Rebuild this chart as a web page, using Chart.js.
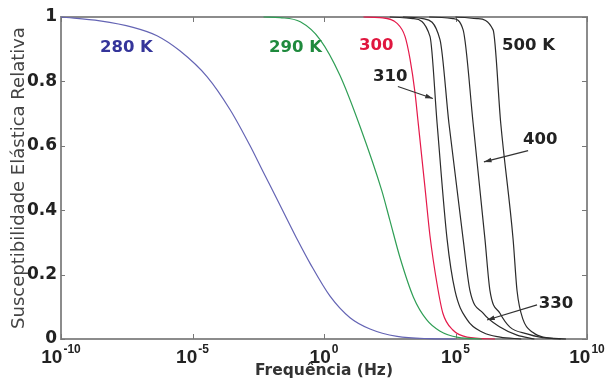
<!DOCTYPE html>
<html>
<head>
<meta charset="utf-8">
<script src="https://cdn.jsdelivr.net/npm/chart.js@4.4.1/dist/chart.umd.min.js"></script>
<style>
  html,body{margin:0;padding:0;background:#fff;}
  #c{display:block;}
</style>
</head>
<body>
<canvas id="c" width="606" height="380"></canvas>
<script>
// ---- Data (frequency as log10(Hz), relative elastic susceptibility) ----
const decadeExponents = [-10, -5, 0, 5, 10];
const decadeExpLabels = ['-10', '-5', '0', '5', '10'];
const yTickValues = [0, 0.2, 0.4, 0.6, 0.8, 1];

const logF280 = [-10, -8.52, -7.26, -6.35, -5.48, -4.45, -3.57, -2.81, -2.32, -1.79, -1.41, -0.99, -0.53, 0.23, 0.99, 1.75, 2.78, 4.0, 5.0];
const chi280  = [1, 0.988, 0.968, 0.942, 0.895, 0.815, 0.712, 0.6, 0.52, 0.435, 0.373, 0.305, 0.235, 0.133, 0.066, 0.031, 0.008, 0.001, 0];

const logF290 = [-2.3, -1.67, -0.9, -0.15, 0.6, 1.37, 2.2, 2.5, 2.9, 3.4, 3.9, 4.4, 5.1, 6.0];
const chi290  = [1, 0.998, 0.985, 0.93, 0.82, 0.66, 0.46, 0.37, 0.25, 0.13, 0.06, 0.025, 0.005, 0];

const logF300 = [1.5, 2.13, 2.78, 3.08, 3.27, 3.46, 3.57, 3.84, 4.03, 4.3, 4.52, 4.9, 5.44, 6.5];
const chi300  = [1, 0.998, 0.98, 0.94, 0.87, 0.765, 0.68, 0.47, 0.32, 0.17, 0.08, 0.028, 0.006, 0];

const logF310 = [2.5, 3.38, 4.03, 4.3, 4.68, 4.98, 5.44, 6.05, 6.7, 7.5];
const chi310  = [1, 0.995, 0.94, 0.67, 0.31, 0.15, 0.06, 0.02, 0.006, 0];

const logF330 = [3.0, 3.76, 4.41, 4.75, 5.29, 5.55, 6.05, 6.69, 7.34, 8.0];
const chi330  = [1, 0.995, 0.93, 0.67, 0.31, 0.15, 0.08, 0.037, 0.012, 0];

const logF400 = [4.0, 4.9, 5.29, 5.67, 6.12, 6.31, 6.69, 7.07, 7.72, 8.21, 9.0];
const chi400  = [1, 0.995, 0.96, 0.67, 0.31, 0.15, 0.08, 0.037, 0.016, 0.006, 0];

const logF500 = [5.0, 5.82, 6.43, 6.72, 7.19, 7.34, 7.57, 7.95, 8.33, 9.2];
const chi500  = [1, 0.995, 0.96, 0.67, 0.31, 0.15, 0.06, 0.02, 0.006, 0];

// curve labels: text, log10(f) of left edge, value at centre
const curveLabelText = ['280 K', '290 K', '300', '500 K', '310', '400', '330'];
const curveLabelLogF = [-8.52, -2.09, 1.33, 6.77, 1.86, 7.57, 8.17];
const curveLabelVal  = [0.905, 0.905, 0.91, 0.912, 0.813, 0.62, 0.109];
// arrows: from (logF, val) to (logF, val)
const arrowFromLogF = [2.81, 7.76, 8.1];
const arrowFromVal  = [0.784, 0.585, 0.106];
const arrowToLogF   = [4.14, 6.08, 6.2];
const arrowToVal    = [0.747, 0.55, 0.059];

// ---- Styles ----
const COLORS = {
  c280: '#6464b4', c290: '#2f9e55', c300: '#e5194a', black: '#2b2b2b',
  t280: '#35359a', t290: '#1f8a3d', t300: '#e0173f', tblack: '#222'
};
const labelColors = [COLORS.t280, COLORS.t290, COLORS.t300, COLORS.tblack, COLORS.tblack, COLORS.tblack, COLORS.tblack];

function pts(lf, v) { return lf.map((e, i) => ({ x: Math.pow(10, e), y: v[i] })); }
function ds(lf, v, color) {
  return {
    data: pts(lf, v), borderColor: color, borderWidth: 1.2, pointRadius: 0,
    fill: false, cubicInterpolationMode: 'monotone', clip: 3
  };
}

const ARIAL = '"Liberation Sans", Arial, sans-serif';
const DEJAVU = '"DejaVu Sans", sans-serif';

const decorPlugin = {
  id: 'decor',
  beforeDatasetsDraw(chart) {
    const { ctx, chartArea: a } = chart;
    const xs = chart.scales.x, ys = chart.scales.y;
    ctx.save();
    ctx.strokeStyle = '#8c8c8c';
    ctx.lineWidth = 2;
    ctx.strokeRect(a.left, a.top, a.right - a.left, a.bottom - a.top);
    ctx.strokeStyle = '#777';
    ctx.lineWidth = 1;
    decadeExponents.forEach(e => {
      const px = Math.round(xs.getPixelForValue(Math.pow(10, e))) + 0.5;
      ctx.beginPath();
      ctx.moveTo(px, a.bottom); ctx.lineTo(px, a.bottom - 5);
      ctx.moveTo(px, a.top); ctx.lineTo(px, a.top + 5);
      ctx.stroke();
    });
    yTickValues.forEach(v => {
      const py = Math.round(ys.getPixelForValue(v)) + 0.5;
      ctx.beginPath();
      ctx.moveTo(a.right, py); ctx.lineTo(a.right - 5, py);
      ctx.moveTo(a.left, py); ctx.lineTo(a.left + 4, py);
      ctx.stroke();
    });
    ctx.restore();
  },
  afterDraw(chart) {
    const { ctx, chartArea: a } = chart;
    const xs = chart.scales.x, ys = chart.scales.y;
    ctx.save();
    // x tick labels 10^n, whole label centred on the tick
    ctx.fillStyle = '#222';
    ctx.textBaseline = 'alphabetic';
    ctx.textAlign = 'left';
    decadeExponents.forEach((e, i) => {
      const px = xs.getPixelForValue(Math.pow(10, e));
      ctx.font = 'bold 19px ' + ARIAL;
      const w = ctx.measureText('10').width;
      ctx.font = 'bold 12px ' + ARIAL;
      const we = ctx.measureText(decadeExpLabels[i]).width;
      const x0 = px - (w + 1 + we) / 2;
      ctx.font = 'bold 19px ' + ARIAL;
      ctx.fillText('10', x0, 363);
      ctx.font = 'bold 12px ' + ARIAL;
      ctx.fillText(decadeExpLabels[i], x0 + w + 1, 353);
    });
    // x title
    ctx.font = 'bold 15.5px ' + DEJAVU;
    ctx.textAlign = 'center';
    ctx.fillStyle = '#333';
    ctx.fillText('Frequência (Hz)', (a.left + a.right) / 2, 375);
    // y title
    ctx.save();
    ctx.translate(19, (a.top + a.bottom) / 2);
    ctx.rotate(-Math.PI / 2);
    ctx.font = '18px ' + DEJAVU;
    ctx.textAlign = 'center';
    ctx.textBaseline = 'middle';
    ctx.fillStyle = '#444';
    ctx.fillText('Susceptibilidade Elástica Relativa', 0, 0);
    ctx.restore();
    // curve labels
    ctx.font = 'bold 16.5px ' + DEJAVU;
    ctx.textAlign = 'left';
    ctx.textBaseline = 'middle';
    curveLabelText.forEach((t, i) => {
      ctx.fillStyle = labelColors[i];
      ctx.fillText(t, xs.getPixelForValue(Math.pow(10, curveLabelLogF[i])), ys.getPixelForValue(curveLabelVal[i]));
    });
    // arrows
    ctx.strokeStyle = '#333';
    ctx.fillStyle = '#333';
    ctx.lineWidth = 1.2;
    arrowFromLogF.forEach((f, i) => {
      const x1 = xs.getPixelForValue(Math.pow(10, f)), y1 = ys.getPixelForValue(arrowFromVal[i]);
      const x2 = xs.getPixelForValue(Math.pow(10, arrowToLogF[i])), y2 = ys.getPixelForValue(arrowToVal[i]);
      const ang = Math.atan2(y2 - y1, x2 - x1);
      ctx.beginPath(); ctx.moveTo(x1, y1); ctx.lineTo(x2, y2); ctx.stroke();
      ctx.beginPath();
      ctx.moveTo(x2, y2);
      ctx.lineTo(x2 - 8 * Math.cos(ang - 0.3), y2 - 8 * Math.sin(ang - 0.3));
      ctx.lineTo(x2 - 8 * Math.cos(ang + 0.3), y2 - 8 * Math.sin(ang + 0.3));
      ctx.closePath(); ctx.fill();
    });
    ctx.restore();
  }
};

new Chart(document.getElementById('c'), {
  type: 'line',
  data: {
    datasets: [
      ds(logF280, chi280, COLORS.c280),
      ds(logF290, chi290, COLORS.c290),
      ds(logF300, chi300, COLORS.c300),
      ds(logF310, chi310, COLORS.black),
      ds(logF330, chi330, COLORS.black),
      ds(logF400, chi400, COLORS.black),
      ds(logF500, chi500, COLORS.black)
    ]
  },
  options: {
    responsive: false,
    animation: false,
    layout: { padding: { top: 17, right: 19, left: 0, bottom: 0 } },
    plugins: { legend: { display: false }, tooltip: { enabled: false } },
    scales: {
      x: {
        type: 'logarithmic', min: 1e-10, max: 1e10,
        grid: { display: false, drawTicks: false },
        border: { display: false },
        ticks: { display: false },
        afterFit(s) { s.height = 41; }
      },
      y: {
        type: 'linear', min: 0, max: 1,
        grid: { display: false, drawTicks: false },
        border: { display: false },
        ticks: {
          stepSize: 0.2, padding: 4, color: '#222',
          font: { family: DEJAVU, size: 17, weight: 'bold' },
          callback: v => (v === 0 || v === 1) ? String(v) : v.toFixed(1)
        },
        afterFit(s) { s.width = 61; }
      }
    }
  },
  plugins: [decorPlugin]
});
</script>
</body>
</html>
